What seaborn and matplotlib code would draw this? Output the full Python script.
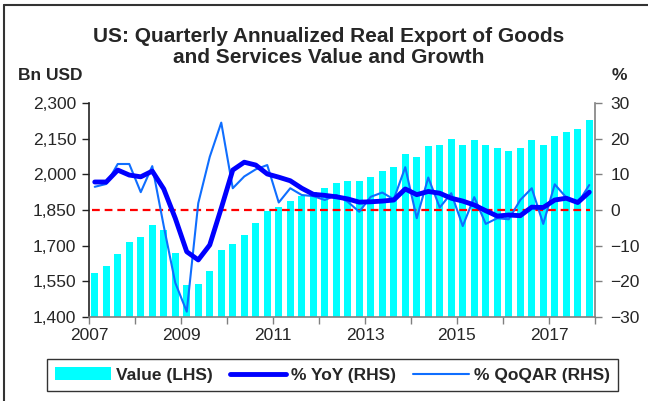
import numpy as np
import pandas as pd
import matplotlib
matplotlib.use("Agg")
import matplotlib.pyplot as plt
import seaborn as sns
from matplotlib.patches import Patch
from matplotlib.lines import Line2D

# Quarterly data, 2007Q1 - 2017Q4
value = [1586, 1616, 1665, 1715, 1736, 1788, 1765, 1668, 1535, 1539, 1593, 1682,
         1707, 1746, 1797, 1847, 1861, 1889, 1909, 1927, 1941, 1962, 1973, 1972,
         1989, 2014, 2030, 2085, 2073, 2119, 2123, 2149, 2125, 2144, 2123, 2111,
         2097, 2111, 2143, 2123, 2161, 2178, 2191, 2228]
yoy = [7.85, 7.85, 11.2, 9.8, 9.3, 10.9, 5.9, -2.3, -11.7, -14.0, -9.8, 0.5,
       11.2, 13.4, 12.6, 10.1, 9.2, 8.2, 6.1, 4.4, 4.1, 3.7, 3.1, 2.2,
       2.3, 2.5, 2.8, 5.9, 4.3, 5.2, 4.7, 3.3, 2.5, 1.4, -0.2, -1.7,
       -1.4, -1.6, 0.8, 0.7, 2.8, 3.3, 2.1, 5.0]
qoqar = [6.5, 7.3, 12.9, 12.9, 5.0, 12.3, -4.5, -20.4, -28.5, 1.9, 14.9, 24.5,
         6.1, 9.4, 11.4, 12.6, 2.1, 6.1, 4.2, 3.9, 2.8, 4.2, 2.3, -0.5,
         3.7, 4.9, 3.0, 12.0, -2.3, 9.1, 0.7, 4.7, -4.5, 3.6, -3.9, -2.3,
         -2.6, 2.8, 6.1, -3.9, 7.2, 3.5, 1.9, 7.0]
year_labels = ["2007", "2009", "2011", "2013", "2015", "2017"]

# mid-quarter position in years
date = 2007 + (np.arange(len(value)) + 0.5) / 4
df = pd.DataFrame({"date": date, "value": value, "yoy": yoy, "qoqar": qoqar})

sns.set_style("white")
plt.rcParams["font.family"] = ["Liberation Sans", "DejaVu Sans"]

C_BAR = "#00FFFF"
C_YOY = "#0000FF"
C_QOQ = "#0F6EFF"
GREY = "#808080"

fig = plt.figure(figsize=(6.48, 4.01), dpi=100)
ax = fig.add_axes([89 / 648, 1 - 317 / 401, (595 - 89) / 648, (317 - 103) / 401])
ax2 = ax.twinx()

sns.barplot(data=df, x="date", y="value", native_scale=True, width=0.64,
            color=C_BAR, saturation=1, errorbar=None, ax=ax, linewidth=0)
ax2.axhline(0, xmin=0.005, xmax=0.99, color="#FF0000", lw=1.6, ls=(0, (3.5, 2.2)))
sns.lineplot(data=df, x="date", y="qoqar", color=C_QOQ, lw=1.5, ax=ax2)
sns.lineplot(data=df, x="date", y="yoy", color=C_YOY, lw=3.5, ax=ax2)

ax.set_xlim(2007, 2018)
ax.set_ylim(1400, 2300)
ax.set_yticks(range(1400, 2301, 150))
ax.set_yticklabels([f"{v:,}" for v in range(1400, 2301, 150)])
ax2.set_ylim(-30, 30)
ax2.set_yticks(range(-30, 31, 10))

ax.set_xticks(range(2007, 2019))
ax.set_xticklabels([year_labels[i // 2] if i % 2 == 0 and i // 2 < len(year_labels) else ""
                    for i in range(12)])
for a in (ax, ax2):
    a.set_xlabel("")
    a.set_ylabel("")
    a.spines["top"].set_visible(False)

ax.spines["left"].set_color("#222222")
ax.spines["bottom"].set_color(GREY)
ax2.spines["right"].set_color(GREY)
ax2.spines["left"].set_visible(False)
ax2.spines["bottom"].set_visible(False)
ax.spines["right"].set_visible(False)
for s in ("left", "bottom"):
    ax.spines[s].set_linewidth(1.2)
ax2.spines["right"].set_linewidth(1.2)

ax.tick_params(axis="y", direction="out", length=5, width=1, color="#222222",
               labelsize=12.5, pad=4, left=True)
ax.tick_params(axis="x", direction="out", length=5, width=1, color=GREY,
               labelsize=12.5, pad=3, bottom=True)
ax2.tick_params(axis="y", direction="out", length=5, width=1, color=GREY,
                labelsize=12.5, pad=6, right=True)

fig.text(0.507, 1 - 47 / 401,
         "US: Quarterly Annualized Real Export of Goods\nand Services Value and Growth",
         ha="center", va="center", fontsize=15, fontweight="bold", linespacing=1.1)
fig.text(18 / 648, 1 - 76 / 401, "Bn USD", ha="left", va="center",
         fontsize=12.5, fontweight="bold")
fig.text(612 / 648, 1 - 76 / 401, "%", ha="left", va="center",
         fontsize=12.5, fontweight="bold")

handles = [Patch(facecolor=C_BAR, edgecolor="none"),
           Line2D([], [], color=C_YOY, lw=3.5),
           Line2D([], [], color=C_QOQ, lw=1.5)]
leg = fig.legend(handles, ["Value (LHS)", "% YoY (RHS)", "% QoQAR (RHS)"],
                 loc="center", bbox_to_anchor=(332.5 / 648, 1 - 375 / 401), ncol=3,
                 frameon=True, fancybox=False, edgecolor="black", handlelength=3.2,
                 handleheight=0.8, columnspacing=1.0, handletextpad=0.3,
                 borderpad=0.45, prop={"weight": "bold", "size": 12.5})
leg.get_frame().set_linewidth(1.0)

# outer frame of the picture
fig.add_artist(Line2D([4 / 648, 4 / 648], [0, 1 - 5 / 401], color="#333333", lw=1.5,
                      transform=fig.transFigure))
fig.add_artist(Line2D([4 / 648, 1], [1 - 5 / 401, 1 - 5 / 401], color="#333333", lw=1.5,
                      transform=fig.transFigure))

fig.savefig("out.png", dpi=100)
